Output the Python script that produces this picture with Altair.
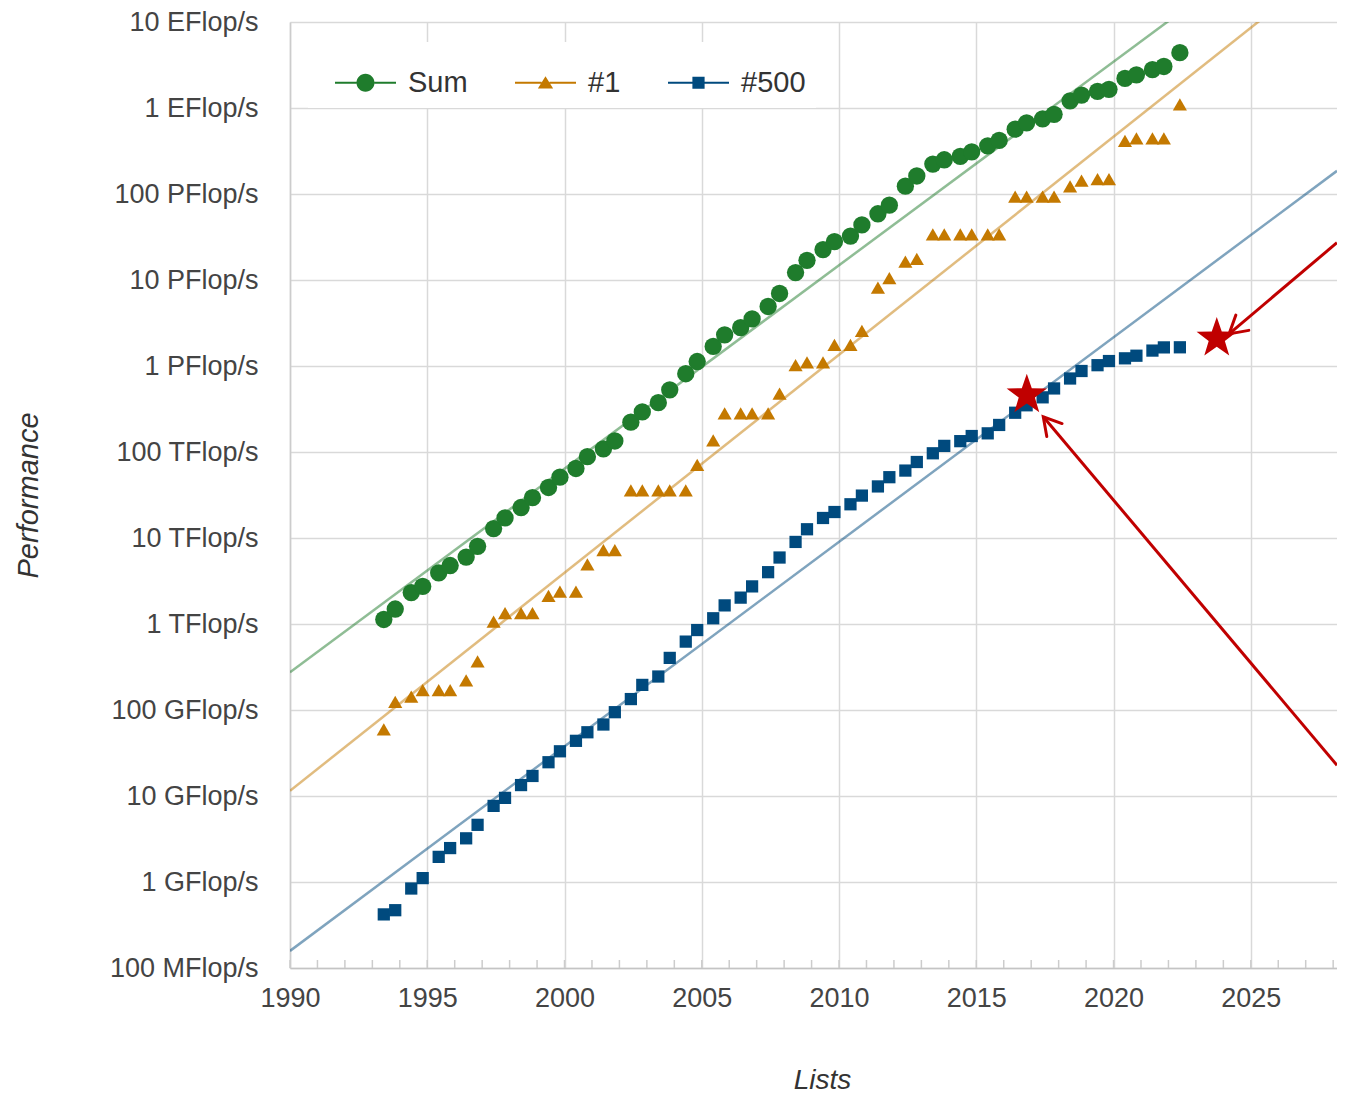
import math
import altair as alt
import pandas as pd

# ---------------- data ----------------
lists = [
    "1993-06", "1993-11", "1994-06", "1994-11", "1995-06", "1995-11",
    "1996-06", "1996-11", "1997-06", "1997-11", "1998-06", "1998-11",
    "1999-06", "1999-11", "2000-06", "2000-11", "2001-06", "2001-11",
    "2002-06", "2002-11", "2003-06", "2003-11", "2004-06", "2004-11",
    "2005-06", "2005-11", "2006-06", "2006-11", "2007-06", "2007-11",
    "2008-06", "2008-11", "2009-06", "2009-11", "2010-06", "2010-11",
    "2011-06", "2011-11", "2012-06", "2012-11", "2013-06", "2013-11",
    "2014-06", "2014-11", "2015-06", "2015-11", "2016-06", "2016-11",
    "2017-06", "2017-11", "2018-06", "2018-11", "2019-06", "2019-11",
    "2020-06", "2020-11", "2021-06", "2021-11", "2022-06",
]

# values in GFlop/s
sum_gflops = [
    1128.6, 1493.4, 2317, 2732, 3927, 4785,
    5997, 7998, 12856, 17128, 22614, 29417,
    38669, 50943, 64312, 88191, 108567, 134269,
    222131, 292770, 374938, 527973, 812941, 1127434,
    1690731, 2302957, 2791556, 3527403, 4920315, 6969679,
    12210000, 16950000, 22600000, 27950000, 32430000, 43670000,
    58880000, 74240000, 123400000, 162000000, 223000000, 250000000,
    274000000, 309000000, 363000000, 420000000, 566700000, 672000000,
    749000000, 845000000, 1210000000, 1414000000, 1559000000, 1650000000,
    2207000000, 2430000000, 2793000000, 3040000000, 4400000000,
]
first_gflops = [
    59.7, 124.5, 143.4, 170.4, 170.4, 170.4,
    220.4, 368.2, 1068, 1338, 1338, 1338,
    2121, 2379, 2379, 4938, 7226, 7226,
    35860, 35860, 35860, 35860, 35860, 70720,
    136800, 280600, 280600, 280600, 280600, 478200,
    1026000, 1105000, 1105000, 1759000, 1759000, 2566000,
    8162000, 10510000, 16320000, 17590000, 33860000, 33860000,
    33860000, 33860000, 33860000, 33860000, 93010000, 93010000,
    93010000, 93010000, 122300000, 143500000, 148600000, 148600000,
    415530000, 442010000, 442010000, 442010000, 1102000000,
]
last_gflops = [
    0.42, 0.47, 0.84, 1.11, 1.96, 2.48,
    3.22, 4.62, 7.67, 9.51, 13.4, 17.1,
    24.7, 33.1, 43.8, 55.1, 67.8, 94.3,
    134, 195.8, 245.1, 403.4, 624, 850.6,
    1166, 1646, 2026, 2737, 4005, 5929,
    9000, 12640, 17090, 20050, 24670, 31120,
    39780, 50940, 60820, 76500, 96620, 117800,
    133700, 153400, 164800, 206300, 286100, 349300,
    432200, 548300, 715600, 874800, 1022000, 1142000,
    1228000, 1317000, 1511000, 1646000, 1650000,
]

series_names = ["Sum", "#1", "#500"]
series_colors = ["#1f7c2c", "#c47900", "#004a7e"]

trend_years = [1990.0, 2028.14]
trend_sum = [275.0, 2.91e11]
trend_first = [11.5, 5.36e10]
trend_last = [0.158, 1.86e8]

minor_years = [1990, 1991, 1992, 1993, 1994, 1995, 1996, 1997, 1998, 1999,
               2000, 2001, 2002, 2003, 2004, 2005, 2006, 2007, 2008, 2009,
               2010, 2011, 2012, 2013, 2014, 2015, 2016, 2017, 2018, 2019,
               2020, 2021, 2022, 2023, 2024, 2025, 2026, 2027, 2028]

x_tick_values = [1990, 1995, 2000, 2005, 2010, 2015, 2020, 2025]
y_tick_values = [0.1, 1, 10, 100, 1e3, 1e4, 1e5, 1e6, 1e7, 1e8, 1e9, 1e10]
y_tick_labels = ["100 MFlop/s", "1 GFlop/s", "10 GFlop/s", "100 GFlop/s",
                 "1 TFlop/s", "10 TFlop/s", "100 TFlop/s", "1 PFlop/s",
                 "10 PFlop/s", "100 PFlop/s", "1 EFlop/s", "10 EFlop/s"]

star_years = [2016.84, 2023.76]
star_gflops = [4.6e5, 2.1e6]

arrow_tip_years = [2017.44, 2024.21]
arrow_tip_gflops = [2.57e5, 2.36e6]
arrow_tail_years = [2028.14, 2028.14]
arrow_tail_gflops = [22.8, 2.72e7]

# ---------------- geometry ----------------
W, H = 1047, 946
X_DOMAIN = [1990, 2028.14]
Y_DOMAIN = [0.1, 1e10]
FONT = "Liberation Sans"


def list_to_year(s):
    y, m = s.split("-")
    return int(y) + (int(m) - 1) / 12.0


def px(year):
    return (year - X_DOMAIN[0]) / (X_DOMAIN[1] - X_DOMAIN[0]) * W


def py(g):
    lo, hi = math.log10(Y_DOMAIN[0]), math.log10(Y_DOMAIN[1])
    return H - (math.log10(g) - lo) / (hi - lo) * H


t_vals = [list_to_year(s) for s in lists]
rows = []
for name, vals in zip(series_names, [sum_gflops, first_gflops, last_gflops]):
    for l, t, v in zip(lists, t_vals, vals):
        rows.append({"series": name, "list": l, "t": t, "g": v})
points_df = pd.DataFrame(rows)

trend_rows = []
for name, vals in zip(series_names, [trend_sum, trend_first, trend_last]):
    for t, v in zip(trend_years, vals):
        trend_rows.append({"series": name, "t": t, "g": v})
trend_df = pd.DataFrame(trend_rows)

minor_df = pd.DataFrame({"t": minor_years})
legend_df = pd.DataFrame({"series": series_names})
star_df = pd.DataFrame({"t": star_years, "g": star_gflops})

arrow_df = pd.DataFrame({
    "t": arrow_tail_years, "g": arrow_tail_gflops,
    "t2": arrow_tip_years, "g2": arrow_tip_gflops,
})
arrow_df["ang"] = [
    math.degrees(math.atan2(py(g2) - py(g), px(t2) - px(t))) % 360
    for t, g, t2, g2 in zip(arrow_df["t"], arrow_df["g"], arrow_df["t2"], arrow_df["g2"])
]
head_df = pd.DataFrame({"t": arrow_tip_years, "g": arrow_tip_gflops, "ang": arrow_df["ang"]})

# ---------------- symbols ----------------
def hbar(a, b, h=0.035):
    return f"M{a},{-h}L{b},{-h}L{b},{h}L{a},{h}Z"


r = 0.295
leg_sum = hbar(-1, -r) + hbar(r, 1) + f"M{r},0A{r},{r},0,1,1,{-r},0A{r},{r},0,1,1,{r},0Z"
leg_first = hbar(-1, -0.13) + hbar(0.13, 1) + "M0,-0.21L0.25,0.19L-0.25,0.19Z"
leg_last = hbar(-1, -0.2) + hbar(0.2, 1) + "M-0.2,-0.2L0.2,-0.2L0.2,0.2L-0.2,0.2Z"

star_path = ""
for k in range(10):
    rad = 1.0 if k % 2 == 0 else 0.40
    a = math.radians(-90 + 36 * k)
    star_path += ("M" if k == 0 else "L") + f"{rad * math.cos(a):.4f},{rad * math.sin(a):.4f}"
star_path += "Z"

arrowhead_path = "M-0.866,-0.5L0,0L-0.866,0.5"

# ---------------- encodings ----------------
label_expr = "[" + ",".join(f"'{s}'" for s in y_tick_labels) + "][round(log(datum.value)/LN10)+1]"

x_enc = alt.X(
    "t:Q",
    scale=alt.Scale(domain=X_DOMAIN, nice=False, zero=False),
    axis=alt.Axis(
        values=x_tick_values, format="d", grid=True, tickSize=0, labelPadding=17,
        labelFlush=False, labelOverlap=False, labelFontSize=27, labelColor="#444",
        title="Lists", titleFontSize=28, titleFontStyle="italic", titleFontWeight="normal",
        titleColor="#333", titleX=532, titleY=112, titleBaseline="middle", titleAlign="center",
        domainColor="#c4c4c4", domainWidth=1.5,
    ),
)
y_enc = alt.Y(
    "g:Q",
    scale=alt.Scale(type="log", domain=Y_DOMAIN, nice=False),
    axis=alt.Axis(
        values=y_tick_values, labelExpr=label_expr, grid=True, tickSize=0, labelPadding=32,
        labelFlush=False, labelOverlap=False, labelFontSize=27, labelColor="#444",
        title="Performance", titleFontSize=29, titleFontStyle="italic", titleFontWeight="normal",
        titleColor="#333", titleX=-262, titleY=H / 2, titleAngle=270, titleBaseline="middle",
        titleAlign="center", domainColor="#cccccc", domainWidth=1.5,
    ),
)
color_scale = alt.Scale(domain=series_names, range=series_colors)

leg = alt.Legend(
    title=None, orient="none", legendX=18, legendY=20, direction="horizontal",
    fillColor="white", padding=10, labelFont=FONT, labelFontSize=29, labelColor="#333",
    symbolSize=3721, symbolOpacity=1, symbolStrokeWidth=0, symbolOffset=17,
    labelOffset=12, columnPadding=30,
)

# ---------------- layers ----------------
legend_layer = alt.Chart(legend_df).mark_point(filled=True, opacity=0).encode(
    color=alt.Color("series:N", scale=color_scale, legend=leg),
    shape=alt.Shape("series:N", scale=alt.Scale(domain=series_names,
                                                 range=[leg_sum, leg_first, leg_last]),
                    legend=leg),
)

minor_ticks = alt.Chart(minor_df).mark_rule(color="#cccccc", strokeWidth=1.5).encode(
    x=x_enc, y=alt.value(H), y2=alt.value(H - 8)
)

trend = alt.Chart(trend_df).mark_line(strokeWidth=2.5, opacity=0.5, clip=True).encode(
    x=x_enc, y=y_enc,
    color=alt.Color("series:N", scale=color_scale, legend=None),
    detail="series:N",
)


def series_layer(name, shape, size):
    return alt.Chart(points_df).transform_filter(alt.datum.series == name).mark_point(
        shape=shape, filled=True, size=size, opacity=1, strokeWidth=0
    ).encode(
        x=x_enc, y=y_enc,
        color=alt.Color("series:N", scale=color_scale, legend=None),
    )


pts_sum = series_layer("Sum", "circle", 300)
pts_first = series_layer("#1", "triangle-up", 200)
pts_last = series_layer("#500", "square", 150)

arrows = alt.Chart(arrow_df).mark_rule(color="#c00000", strokeWidth=3).encode(
    x=x_enc, y=y_enc, x2="t2:Q", y2="g2:Q"
)
heads = alt.Chart(head_df).mark_point(
    shape=arrowhead_path, filled=False, size=1600, strokeWidth=3, color="#c00000",
    opacity=1, strokeCap="round", strokeJoin="miter"
).encode(x=x_enc, y=y_enc, angle=alt.Angle("ang:Q", scale=None))

stars = alt.Chart(star_df).mark_point(
    shape=star_path, filled=True, size=1800, color="#c00000", opacity=1, strokeWidth=0
).encode(x=x_enc, y=y_enc)

chart = alt.layer(
    legend_layer, minor_ticks, trend, pts_sum, pts_first, pts_last, arrows, heads, stars
).properties(
    width=W, height=H, background="white",
    autosize=alt.AutoSizeParams(type="none"),
    padding={"left": 282, "top": 14, "right": 0, "bottom": 130},
).configure_view(stroke=None).configure_axis(
    gridColor="#d9d9d9", gridWidth=1.5, labelFont=FONT, titleFont=FONT,
).configure_legend(labelFont=FONT)

chart.save("out.html", embed_options={"renderer": "svg", "actions": False})
